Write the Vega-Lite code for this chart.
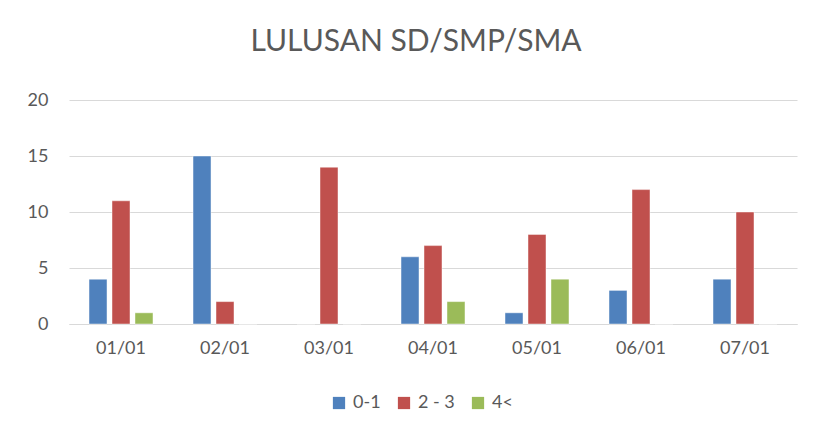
{
  "$schema": "https://vega.github.io/schema/vega-lite/v6.json",
  "width": 728,
  "height": 224,
  "autosize": {"type": "none"},
  "padding": {"left": 69, "top": 100, "right": 16, "bottom": 111},
  "background": "white",
  "title": {
    "text": "LULUSAN SD/SMP/SMA",
    "font": "Lato",
    "fontSize": 30,
    "fontWeight": "normal",
    "color": "#595959",
    "anchor": "middle",
    "offset": 34,
    "dx": -17
  },
  "data": {
    "values": [
      {"tanggal": "01/01", "kelompok": "0-1", "jumlah": 4},
      {"tanggal": "01/01", "kelompok": "2 - 3", "jumlah": 11},
      {"tanggal": "01/01", "kelompok": "4<", "jumlah": 1},
      {"tanggal": "02/01", "kelompok": "0-1", "jumlah": 15},
      {"tanggal": "02/01", "kelompok": "2 - 3", "jumlah": 2},
      {"tanggal": "02/01", "kelompok": "4<", "jumlah": 0},
      {"tanggal": "03/01", "kelompok": "0-1", "jumlah": 0},
      {"tanggal": "03/01", "kelompok": "2 - 3", "jumlah": 14},
      {"tanggal": "03/01", "kelompok": "4<", "jumlah": 0},
      {"tanggal": "04/01", "kelompok": "0-1", "jumlah": 6},
      {"tanggal": "04/01", "kelompok": "2 - 3", "jumlah": 7},
      {"tanggal": "04/01", "kelompok": "4<", "jumlah": 2},
      {"tanggal": "05/01", "kelompok": "0-1", "jumlah": 1},
      {"tanggal": "05/01", "kelompok": "2 - 3", "jumlah": 8},
      {"tanggal": "05/01", "kelompok": "4<", "jumlah": 4},
      {"tanggal": "06/01", "kelompok": "0-1", "jumlah": 3},
      {"tanggal": "06/01", "kelompok": "2 - 3", "jumlah": 12},
      {"tanggal": "06/01", "kelompok": "4<", "jumlah": 0},
      {"tanggal": "07/01", "kelompok": "0-1", "jumlah": 4},
      {"tanggal": "07/01", "kelompok": "2 - 3", "jumlah": 10},
      {"tanggal": "07/01", "kelompok": "4<", "jumlah": 0}
    ]
  },
  "mark": {"type": "bar", "stroke": "white", "strokeWidth": 0.75, "strokeOpacity": 0.6},
  "encoding": {
    "x": {
      "field": "tanggal",
      "type": "nominal",
      "scale": {"paddingInner": 0.385, "paddingOuter": 0.1925},
      "axis": {
        "title": null,
        "labelAngle": 0,
        "ticks": false,
        "domainColor": "#d9d9d9",
        "domainWidth": 1,
        "labelFont": "Lato",
        "labelFontSize": 18,
        "labelColor": "#595959",
        "labelPadding": 15
      }
    },
    "xOffset": {
      "field": "kelompok",
      "type": "nominal",
      "scale": {"paddingInner": 0.217, "paddingOuter": 0}
    },
    "y": {
      "field": "jumlah",
      "type": "quantitative",
      "scale": {"domain": [0, 20], "nice": false},
      "axis": {
        "title": null,
        "values": [0, 5, 10, 15, 20],
        "domain": false,
        "ticks": false,
        "gridColor": "#d9d9d9",
        "gridWidth": 1,
        "labelFont": "Lato",
        "labelFontSize": 18,
        "labelColor": "#595959",
        "labelPadding": 21
      }
    },
    "color": {
      "field": "kelompok",
      "type": "nominal",
      "scale": {"domain": ["0-1", "2 - 3", "4<"], "range": ["#4f81bd", "#c0504d", "#9bbb59"]},
      "legend": {
        "title": null,
        "orient": "none",
        "direction": "horizontal",
        "legendX": 261,
        "legendY": 294,
        "symbolType": "square",
        "symbolSize": 150,
        "symbolStrokeWidth": 0,
        "labelFont": "Lato",
        "labelFontSize": 18,
        "labelColor": "#595959",
        "labelOffset": 5,
        "columnPadding": 14
      }
    }
  },
  "config": {
    "view": {"stroke": null}
  }
}
